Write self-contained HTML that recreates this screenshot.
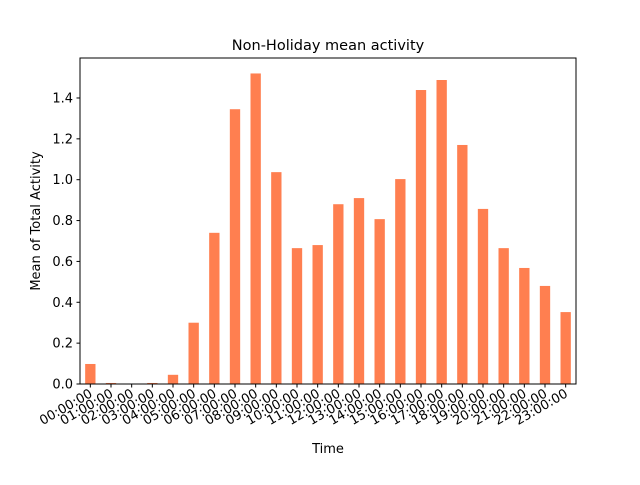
<!DOCTYPE html>
<html><head><meta charset="utf-8"><style>
body{margin:0;background:#fff;}
svg text{font-family:"DejaVu Sans","Liberation Sans",sans-serif;}
</style></head><body>
<svg id="chart" width="640" height="480" xmlns="http://www.w3.org/2000/svg">
<rect width="640" height="480" fill="#fff"/>
<text x="328" y="50" font-size="14.5" text-anchor="middle">Non-Holiday mean activity</text>
<g id="bars"></g>
<g id="axes"></g>
<rect x="80" y="58" width="496" height="326" fill="none" stroke="#000" stroke-width="1"/>
<text x="328" y="453" font-size="13" text-anchor="middle">Time</text>
<text x="0" y="0" font-size="13" text-anchor="middle" transform="translate(40,221) rotate(-90)">Mean of Total Activity</text>
</svg>
<script>
const categories = ["00:00:00","01:00:00","02:00:00","03:00:00","04:00:00","05:00:00","06:00:00","07:00:00","08:00:00","09:00:00","10:00:00","11:00:00","12:00:00","13:00:00","14:00:00","15:00:00","16:00:00","17:00:00","18:00:00","19:00:00","20:00:00","21:00:00","22:00:00","23:00:00"];
const values = [0.098,0.005,0.002,0.005,0.045,0.30,0.74,1.345,1.52,1.037,0.665,0.68,0.88,0.91,0.807,1.003,1.439,1.488,1.17,0.857,0.665,0.568,0.48,0.352];
const yTicks = [0,0.2,0.4,0.6,0.8,1.0,1.2,1.4];
const yTickLabels = ["0.0","0.2","0.4","0.6","0.8","1.0","1.2","1.4"];

const NS="http://www.w3.org/2000/svg";
const L=80,R=576,T=58,B=384,yMax=1.5957;
const step=(R-L)/categories.length;
function xPos(i){return L+step*(i+0.5);}
function yPos(v){return B-(v/yMax)*(B-T);}
const bars=document.getElementById('bars'), axes=document.getElementById('axes');
function mk(tag,attrs,parent){const e=document.createElementNS(NS,tag);for(const k in attrs)e.setAttribute(k,attrs[k]);parent.appendChild(e);return e;}
values.forEach((v,i)=>{
  const w=step*0.5;
  const r=mk('rect',{x:xPos(i)-w/2,y:yPos(v),width:w,height:B-yPos(v),fill:'#ff7f50'},bars);
  
  
  const t=mk('line',{x1:xPos(i),x2:xPos(i),y1:B,y2:B+3.5,stroke:'#000'},axes);
  
  
  const x=xPos(i)+3,y=B+12;
  const lb=mk('text',{x:x,y:y,'font-size':'13','text-anchor':'end',transform:`rotate(-30 ${x} ${y})`},axes);
  lb.textContent=categories[i];
  
  
});
yTicks.forEach((v,i)=>{
  const y=yPos(v);
  const t=mk('line',{x1:L-3.5,x2:L,y1:y,y2:y,stroke:'#000'},axes);
  
  
  const lb=mk('text',{x:L-7,y:y+4.5,'font-size':'13','text-anchor':'end'},axes);
  lb.textContent=yTickLabels[i];
  
  
});
</script>
</body></html>
